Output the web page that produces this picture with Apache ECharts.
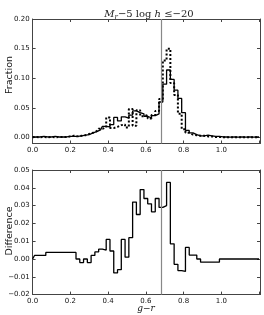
<!DOCTYPE html>
<html><head><meta charset="utf-8">
<script src="https://cdn.jsdelivr.net/npm/echarts@6/dist/echarts.min.js"></script>
<style>html,body{margin:0;padding:0;background:#fff}#c{width:264px;height:315px}</style>
</head><body><div id="c"></div>
<script>
const binCenters = [0.00,0.02,0.04,0.06,0.08,0.10,0.12,0.14,0.16,0.18,
  0.20,0.22,0.24,0.26,0.28,0.30,0.32,0.34,0.36,0.38,
  0.40,0.42,0.44,0.46,0.48,0.50,0.52,0.54,0.56,0.58,
  0.60,0.62,0.64,0.66,0.68,0.70,0.72,0.74,0.76,0.78,
  0.80,0.82,0.84,0.86,0.88,0.90,0.92,0.94,0.96,0.98,
  1.00,1.02,1.04,1.06,1.08,1.10,1.12,1.14,1.16,1.18,1.20];
const fracSolid = [0.001,0.001,0.001,0.002,0.001,0.001,0.002,0.001,0.001,0.001,
  0.002,0.002,0.002,0.003,0.004,0.005,0.008,0.010,0.013,0.019,
  0.018,0.022,0.034,0.028,0.035,0.033,0.038,0.045,0.042,0.040,
  0.036,0.033,0.037,0.040,0.060,0.090,0.114,0.098,0.080,0.066,
  0.042,0.012,0.008,0.005,0.003,0.003,0.004,0.003,0.002,0.002,
  0.001,0.001,0.0008,0.001,0.0008,0.001,0.0008,0.001,0.0008,0.001,0.001];
const fracDotted = [0.0005,0.001,0.0005,0.001,0.0005,0.001,0.0005,0.001,0.001,0.001,
  0.002,0.003,0.002,0.003,0.004,0.006,0.008,0.011,0.015,0.017,
  0.034,0.016,0.018,0.021,0.022,0.017,0.048,0.020,0.046,0.036,
  0.038,0.032,0.038,0.045,0.065,0.130,0.150,0.092,0.072,0.040,
  0.014,0.008,0.005,0.004,0.003,0.003,0.002,0.002,0.001,0.001,
  0.0005,0.0005,0.0005,0.0005,0.0005,0.0005,0.0005,0.0005,0.0005,0.0005,0.0005];
const diffValues = [0.000,0.002,0.002,0.002,0.0037,0.0037,0.0037,0.0037,0.0037,0.0037,
  0.0037,0.0037,0.000,-0.002,0.000,-0.002,0.002,0.004,0.0055,0.005,
  0.011,0.0045,-0.0078,-0.006,0.011,0.001,0.012,0.032,0.025,0.039,
  0.034,0.031,0.0265,0.034,0.029,0.030,0.043,0.0085,-0.003,-0.0065,
  -0.007,0.0065,0.0022,0.0022,0.000,-0.0018,-0.0018,-0.0018,-0.0018,-0.0018,
  0.000,0.000,0.000,0.000,0.000,0.000,0.000,0.000,0.000,0.000,0.000];
const xTicks = [0,0.2,0.4,0.6,0.8,1.0,1.2];
const xTickLabels = [0,0.2,0.4,0.6,0.8,1.0];
const fracTicks = [0,0.05,0.10,0.15,0.20];
const cutValue = 0.68;

const pair = (ys) => binCenters.map((x, i) => [x, ys[i]]);
const frame = '#444';
const fmt = v => v.toFixed(2).replace('-', '\u2212');
const fmtX = v => v.toFixed(1);
const labelStyle = {fontSize: 7, color: '#111', fontFamily: 'DejaVu Sans'};

function xAx(gi, pos, labels) {
  return {
    type: 'value', gridIndex: gi, position: pos, min: 0, max: 1.205,
    axisLine: {show: true, onZero: false, lineStyle: {color: frame, width: 1}},
    axisTick: {show: true, inside: true, length: 3, customValues: xTicks, lineStyle: {color: frame}},
    axisLabel: labels ? Object.assign({show: true, margin: 3, formatter: fmtX, customValues: xTickLabels}, labelStyle) : {show: false},
    splitLine: {show: false}
  };
}
function yAx(gi, pos, labels, min, max, ticks, interval) {
  const a = {
    type: 'value', gridIndex: gi, position: pos, min: min, max: max,
    axisLine: {show: true, onZero: false, lineStyle: {color: frame, width: 1}},
    axisTick: {show: true, inside: true, length: 3, lineStyle: {color: frame}},
    axisLabel: labels ? Object.assign({show: true, margin: 3, formatter: fmt, showMinLabel: true, showMaxLabel: true}, labelStyle) : {show: false},
    splitLine: {show: false}
  };
  if (ticks) { a.axisTick.customValues = ticks; if (labels) a.axisLabel.customValues = ticks; }
  if (interval) a.interval = interval;
  return a;
}
const vline = {
  symbol: 'none', silent: true, label: {show: false},
  lineStyle: {color: '#888', type: 'solid', width: 1.2},
  data: [{xAxis: cutValue}]
};

const chart = echarts.init(document.getElementById('c'), null, {renderer: 'canvas'});
chart.setOption({
  animation: false,
  backgroundColor: '#fff',
  title: {
    text: '{i|M}{s|r}{n|\u22125 log }{i|h}{n| \u2264\u221220}',
    left: 144, top: 3, textAlign: 'center',
    textStyle: {
      fontWeight: 'normal',
      rich: {
        i: {fontFamily: 'DejaVu Serif', fontStyle: 'italic', fontWeight: 'normal', fontSize: 10, color: '#222'},
        s: {fontFamily: 'DejaVu Serif', fontStyle: 'italic', fontWeight: 'normal', fontSize: 7, color: '#222', verticalAlign: 'bottom', padding: [6, 0, 0, 0]},
        n: {fontFamily: 'DejaVu Serif', fontWeight: 'normal', fontSize: 10, color: '#222'}
      }
    }
  },
  grid: [
    {left: 32.6, top: 19, width: 227.4, height: 124.5},
    {left: 32.6, top: 170, width: 227.4, height: 124.6}
  ],
  xAxis: [xAx(0, 'bottom', true), xAx(0, 'top', false), xAx(1, 'bottom', true), xAx(1, 'top', false)],
  yAxis: [
    yAx(0, 'left', true, -0.01, 0.20, fracTicks),
    yAx(0, 'right', false, -0.01, 0.20, fracTicks),
    yAx(1, 'left', true, -0.02, 0.05, null, 0.01),
    yAx(1, 'right', false, -0.02, 0.05, null, 0.01)
  ],
  graphic: [
    {type: 'text', x: 10, y: 75, rotation: Math.PI / 2, style: {text: 'Fraction', fontSize: 9.5, fontFamily: 'DejaVu Sans', fill: '#111', align: 'center', verticalAlign: 'middle'}},
    {type: 'text', x: 10, y: 231, rotation: Math.PI / 2, style: {text: 'Difference', fontSize: 9.5, fontFamily: 'DejaVu Sans', fill: '#111', align: 'center', verticalAlign: 'middle'}},
    {type: 'text', x: 146, y: 309, style: {text: '{i|g}{n|\u2212}{i|r}', fontSize: 9, fill: '#111', align: 'center', verticalAlign: 'middle',
      rich: {i: {fontFamily: 'DejaVu Serif', fontStyle: 'italic', fontSize: 9}, n: {fontFamily: 'DejaVu Serif', fontSize: 9}}}}
  ],
  series: [
    {type: 'line', xAxisIndex: 0, yAxisIndex: 0, step: 'middle', data: pair(fracSolid), symbol: 'none',
      lineStyle: {color: '#000', width: 1.3}, markLine: vline, z: 3},
    {type: 'line', xAxisIndex: 0, yAxisIndex: 0, step: 'middle', data: pair(fracDotted), symbol: 'none',
      lineStyle: {color: '#000', width: 2, type: [2, 2], cap: 'butt'}, z: 4},
    {type: 'line', xAxisIndex: 2, yAxisIndex: 2, step: 'middle', data: pair(diffValues), symbol: 'none',
      lineStyle: {color: '#000', width: 1.3}, markLine: vline, z: 3}
  ]
});
</script></body></html>
